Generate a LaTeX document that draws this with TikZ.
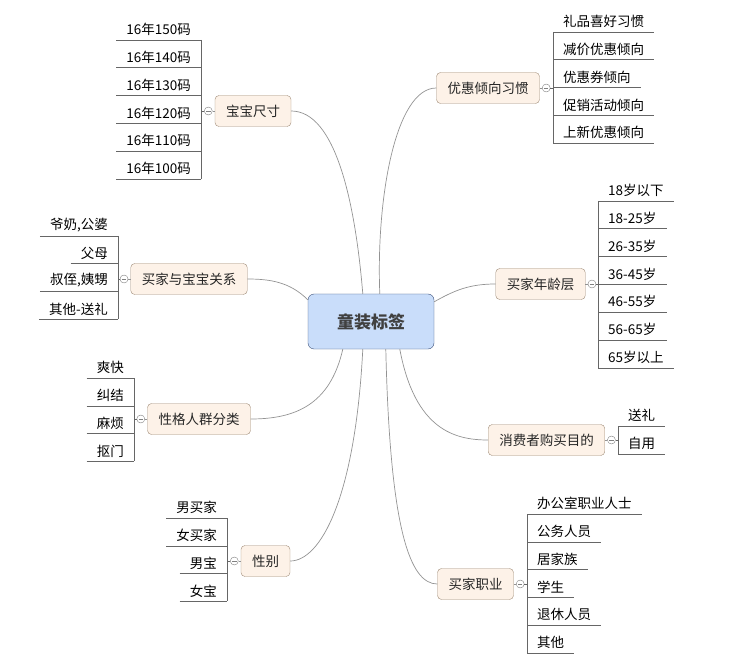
\documentclass[tikz,border=0pt]{standalone}
\usepackage{fontspec}
\setmainfont{Noto Sans CJK SC}
\usetikzlibrary{calc}
\definecolor{cfill}{RGB}{201,221,250}
\definecolor{cdraw}{RGB}{60,80,120}
\definecolor{bfill}{RGB}{253,242,232}
\definecolor{bdraw}{RGB}{160,140,120}
\tikzset{
 center/.style={draw=cdraw,fill=cfill,rounded corners=6pt,minimum width=126pt,minimum height=55pt,font=\fontsize{17}{19}\selectfont\bfseries,text=black!75},
 branch/.style={draw=bdraw,fill=bfill,rounded corners=4pt,minimum height=31pt,inner xsep=11pt,font=\fontsize{13.5}{15}\selectfont,text=black!85},
 leafR/.style={anchor=south west,inner xsep=10pt,inner ysep=4pt,font=\fontsize{13.5}{15}\selectfont},
 leafL/.style={anchor=south east,inner xsep=10pt,inner ysep=4pt,font=\fontsize{13.5}{15}\selectfont},
 leafline/.style={draw=gray!80!black,line width=0.6pt},
 conn/.style={draw=gray!85,line width=0.7pt},
 knob/.style={circle,draw=gray,fill=white,inner sep=0pt,minimum size=8pt},
}
\newcommand\leavesR[4]{%
 \foreach \t [count=\i] in {#4}{\node[leafR] (#1l\i) at (#2,{#3+27.8*(\i-1)}) {\t};
  \draw[leafline] (#1l\i.south west) -- (#1l\i.south east);}}
\newcommand\leavesL[4]{%
 \foreach \t [count=\i] in {#4}{\node[leafL] (#1l\i) at (#2,{#3+27.8*(\i-1)}) {\t};
  \draw[leafline] (#1l\i.south west) -- (#1l\i.south east);}}
\begin{document}
\begin{tikzpicture}[x=1pt,y=-1pt]
\useasboundingbox (0,0) rectangle (740,658);
\node[center] (c) at (371,321.5) {童装标签};
\node[branch] (b1) at (488,88) {优惠倾向习惯};
\node[branch] (b2) at (540.5,284) {买家年龄层};
\node[branch] (b3) at (546.5,440) {消费者购买目的};
\node[branch] (b4) at (475.5,584) {买家职业};
\node[branch] (b5) at (253,111) {宝宝尺寸};
\node[branch] (b6) at (189,279) {买家与宝宝关系};
\node[branch] (b7) at (199,419) {性格人群分类};
\node[branch] (b8) at (265.5,561) {性别};
\leavesR{r1}{553}{32}{礼品喜好习惯,减价优惠倾向,优惠券倾向,促销活动倾向,上新优惠倾向}
\draw[leafline] (r1l1.south west) -- (r1l5.south west);
\leavesR{r2}{598}{201}{18岁以下,18-25岁,26-35岁,36-45岁,46-55岁,56-65岁,65岁以上}
\draw[leafline] (r2l1.south west) -- (r2l7.south west);
\leavesR{r3}{618}{426}{送礼,自用}
\draw[leafline] (r3l1.south west) -- (r3l2.south west);
\leavesR{r4}{527}{514}{办公室职业人士,公务人员,居家族,学生,退休人员,其他}
\draw[leafline] (r4l1.south west) -- (r4l6.south west);
\leavesL{l1}{201}{40}{16年150码,16年140码,16年130码,16年120码,16年110码,16年100码}
\draw[leafline] (l1l1.south east) -- (l1l6.south east);
\leavesL{l2}{118}{236}{{爷奶,公婆},父母,{叔侄,姨甥},其他-送礼}
\draw[leafline] (l2l1.south east) -- (l2l4.south east);
\leavesL{l3}{134}{378}{爽快,纠结,麻烦,抠门}
\draw[leafline] (l3l1.south east) -- (l3l4.south east);
\leavesL{l4}{227}{518}{男买家,女买家,男宝,女宝}
\draw[leafline] (l4l1.south east) -- (l4l4.south east);
\foreach \b/\l in {b1/r1l1,b2/r2l1,b3/r3l1,b4/r4l1}{
 \node[knob] (\b k) at ($(\b.east)+(6.5,0)$) {};
 \draw[conn] (\b.east) -- (\b k.west);
 \draw[leafline] (\b k.east) -- (\b k.east -| \l.south west);
 \draw[gray,line width=0.5pt] ($(\b k.center)+(-2.2,0)$) -- ($(\b k.center)+(2.2,0)$);}
\foreach \b/\l in {b5/l1l1,b6/l2l1,b7/l3l1,b8/l4l1}{
 \node[knob] (\b k) at ($(\b.west)+(-6.5,0)$) {};
 \draw[conn] (\b.west) -- (\b k.east);
 \draw[leafline] (\b k.west) -- (\b k.west -| \l.south east);
 \draw[gray,line width=0.5pt] ($(\b k.center)+(-2.2,0)$) -- ($(\b k.center)+(2.2,0)$);}
\draw[conn] ($(c.north west)+(72,0)$) .. controls (376,200) and (395,88) .. (b1.west);
\draw[conn] ($(c.north east)+(0,8)$) .. controls (455,290) and (470,284) .. (b2.west);
\draw[conn] ($(c.south west)+(92,0)$) .. controls (415,430) and (455,440) .. (b3.west);
\draw[conn] ($(c.south west)+(78,0)$) .. controls (390,530) and (410,584) .. (b4.west);
\draw[conn] ($(c.north west)+(55,0)$) .. controls (355,200) and (335,111) .. (b5.east);
\draw[conn] ($(c.north west)+(0,6)$) .. controls (290,282) and (270,279) .. (b6.east);
\draw[conn] ($(c.south west)+(35,0)$) .. controls (330,405) and (295,419) .. (b7.east);
\draw[conn] ($(c.south west)+(55,0)$) .. controls (355,500) and (320,561) .. (b8.east);
\end{tikzpicture}
\end{document}
